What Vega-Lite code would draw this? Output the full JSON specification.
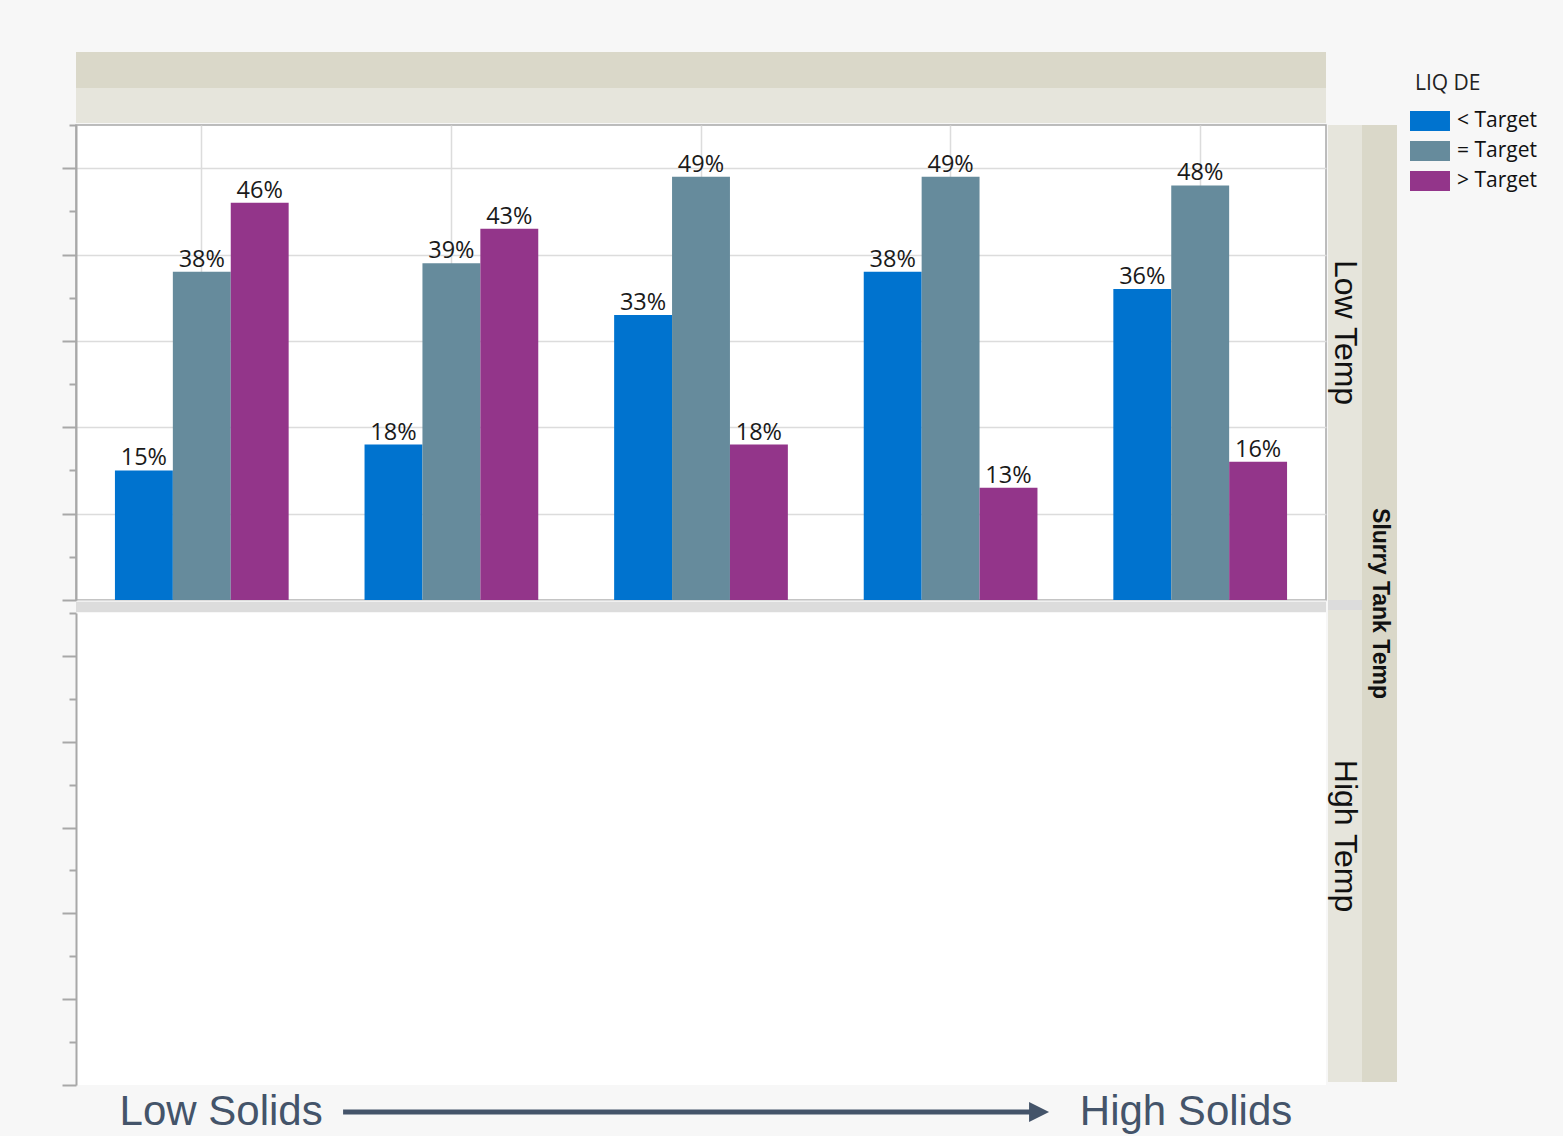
{
  "$schema": "https://vega.github.io/schema/vega-lite/v6.json",
  "background": "#f7f7f7",
  "padding": {"left": 60, "top": 52, "right": 5, "bottom": 0},
  "datasets": {
    "bars": [
      {"temp": "Low Temp", "solids": "Solids 1", "liq": "< Target", "pct": 0.15},
      {"temp": "Low Temp", "solids": "Solids 1", "liq": "= Target", "pct": 0.38},
      {"temp": "Low Temp", "solids": "Solids 1", "liq": "> Target", "pct": 0.46},
      {"temp": "Low Temp", "solids": "Solids 2", "liq": "< Target", "pct": 0.18},
      {"temp": "Low Temp", "solids": "Solids 2", "liq": "= Target", "pct": 0.39},
      {"temp": "Low Temp", "solids": "Solids 2", "liq": "> Target", "pct": 0.43},
      {"temp": "Low Temp", "solids": "Solids 3", "liq": "< Target", "pct": 0.33},
      {"temp": "Low Temp", "solids": "Solids 3", "liq": "= Target", "pct": 0.49},
      {"temp": "Low Temp", "solids": "Solids 3", "liq": "> Target", "pct": 0.18},
      {"temp": "Low Temp", "solids": "Solids 4", "liq": "< Target", "pct": 0.38},
      {"temp": "Low Temp", "solids": "Solids 4", "liq": "= Target", "pct": 0.49},
      {"temp": "Low Temp", "solids": "Solids 4", "liq": "> Target", "pct": 0.13},
      {"temp": "Low Temp", "solids": "Solids 5", "liq": "< Target", "pct": 0.36},
      {"temp": "Low Temp", "solids": "Solids 5", "liq": "= Target", "pct": 0.48},
      {"temp": "Low Temp", "solids": "Solids 5", "liq": "> Target", "pct": 0.16}
    ],
    "rows": [{"temp": "Low Temp"}, {"temp": "High Temp"}],
    "ends": [{"end": "Low Solids"}, {"end": "High Solids"}],
    "arrow": [{"from": "Low Solids", "to": "High Solids"}]
  },
  "config": {"view": {"stroke": null}, "concat": {"spacing": 0}},
  "spacing": 1,
  "hconcat": [
    {
      "spacing": 0,
      "vconcat": [
        {"width": 1250, "height": 36, "view": {"fill": "#dad8c9", "stroke": null}, "data": {"values": []}, "mark": "point", "encoding": {}},
        {"width": 1250, "height": 35, "view": {"fill": "#e6e5dc", "stroke": null}, "data": {"values": []}, "mark": "point", "encoding": {}},
        {
          "width": 1250, "height": 475,
          "view": {"fill": "#ffffff", "stroke": "#a8a8a8", "strokeWidth": 1.5},
          "data": {"name": "bars"},
          "transform": [{"filter": "datum.temp == 'Low Temp'"}],
          "encoding": {
            "x": {"field": "solids", "type": "nominal",
              "scale": {"domain": ["Solids 1", "Solids 2", "Solids 3", "Solids 4", "Solids 5"], "paddingInner": 0.304, "paddingOuter": 0.156},
              "axis": {"title": null, "labels": false, "ticks": false, "domain": false, "grid": true, "gridColor": "#dcdcdc", "gridWidth": 1.5, "bandPosition": 0.5}},
            "xOffset": {"field": "liq", "type": "nominal", "scale": {"domain": ["< Target", "= Target", "> Target"], "paddingInner": 0, "paddingOuter": 0}},
            "y": {"field": "pct", "type": "quantitative",
              "scale": {"domain": [0, 0.55], "nice": false},
              "axis": {"title": null, "labels": false, "values": [0, 0.05, 0.1, 0.15, 0.2, 0.25, 0.3, 0.35, 0.4, 0.45, 0.5, 0.55],
                "domainColor": "#a8a8a8", "domainWidth": 2, "tickColor": "#a8a8a8", "tickWidth": 2,
                "tickSize": {"condition": {"test": "round(datum.value*100) % 10 != 0", "value": 7}, "value": 14},
                "grid": true, "gridColor": "#dcdcdc", "gridWidth": 1.5,
                "gridOpacity": {"condition": {"test": "round(datum.value*100) % 10 != 0", "value": 0}, "value": 1}}}
          },
          "layer": [
            {
              "mark": {"type": "bar", "strokeWidth": 0},
              "encoding": {
                "color": {"field": "liq", "type": "nominal",
                  "scale": {"domain": ["< Target", "= Target", "> Target"], "range": ["#0073cf", "#668b9c", "#93358a"]},
                  "legend": {"title": "LIQ DE", "orient": "right", "offset": -3, "padding": 21,
                    "titleFont": "Open Sans", "titleFontSize": 21, "titleFontWeight": "normal", "titleColor": "#222222", "titlePadding": 12,
                    "labelFont": "Open Sans", "labelFontSize": 21, "labelColor": "#111111", "labelOffset": 12,
                    "symbolType": "M-1.333,-0.667H1.333V0.667H-1.333Z", "symbolSize": 900, "symbolStrokeWidth": 0, "symbolOpacity": 1, "rowPadding": 4}}
              }
            },
            {
              "mark": {"type": "text", "baseline": "alphabetic", "dy": -5, "font": "Open Sans", "fontSize": 23.5, "color": "#1a1a1a"},
              "encoding": {"text": {"field": "pct", "type": "quantitative", "format": ".0%"}}
            }
          ]
        },
        {"width": 1250, "height": 10, "view": {"fill": "#dcdcdc", "stroke": null}, "data": {"values": []}, "mark": "point", "encoding": {}},
        {
          "width": 1250, "height": 472,
          "view": {"fill": "#ffffff", "stroke": null},
          "data": {"name": "bars"},
          "transform": [{"filter": "datum.temp == 'High Temp'"}],
          "mark": "bar",
          "encoding": {
            "x": {"field": "solids", "type": "nominal", "scale": {"domain": ["Solids 1", "Solids 2", "Solids 3", "Solids 4", "Solids 5"]}, "axis": null},
            "y": {"field": "pct", "type": "quantitative",
              "scale": {"domain": [0, 0.55], "nice": false},
              "axis": {"title": null, "labels": false, "values": [0, 0.05, 0.1, 0.15, 0.2, 0.25, 0.3, 0.35, 0.4, 0.45, 0.5, 0.55],
                "domainColor": "#a8a8a8", "domainWidth": 2, "tickColor": "#a8a8a8", "tickWidth": 2,
                "tickSize": {"condition": {"test": "round(datum.value*100) % 10 != 0", "value": 7}, "value": 14},
                "grid": false}}
          }
        },
        {
          "width": 1250, "height": 52,
          "layer": [
            {
              "data": {"name": "ends"},
              "mark": {"type": "text", "font": "Liberation Sans", "fontSize": 42, "color": "#44546a", "baseline": "middle"},
              "encoding": {
                "x": {"field": "end", "type": "nominal", "scale": {"type": "point", "domain": ["Low Solids", "High Solids"], "padding": 0.1477, "align": 0.509}, "axis": null},
                "text": {"field": "end"}
              }
            },
            {
              "data": {"name": "arrow"},
              "mark": {"type": "rule", "color": "#44546a", "strokeWidth": 5, "xOffset": 122, "x2Offset": -144},
              "encoding": {
                "x": {"field": "from", "type": "nominal", "scale": {"type": "point", "domain": ["Low Solids", "High Solids"], "padding": 0.1477, "align": 0.509}, "axis": null},
                "x2": {"field": "to"}
              }
            },
            {
              "data": {"name": "arrow"},
              "mark": {"type": "point", "shape": "M-1,-1L1,0L-1,1Z", "size": 400, "filled": true, "color": "#44546a", "opacity": 1, "xOffset": -147},
              "encoding": {
                "x": {"field": "to", "type": "nominal", "scale": {"type": "point", "domain": ["Low Solids", "High Solids"], "padding": 0.1477, "align": 0.509}, "axis": null}
              }
            }
          ]
        }
      ]
    },
    {
      "spacing": 0,
      "vconcat": [
        {"width": 69, "height": 73, "data": {"values": []}, "mark": "point", "encoding": {}},
        {
          "spacing": 0,
          "hconcat": [
            {
              "spacing": 0,
              "vconcat": [
                {"width": 34, "height": 475, "view": {"fill": "#e6e5dc", "stroke": null},
                  "data": {"name": "rows"}, "transform": [{"filter": "datum.temp == 'Low Temp'"}],
                  "mark": {"type": "text", "angle": 90, "font": "Liberation Sans", "fontSize": 32, "color": "#111111", "baseline": "middle", "dx": -30},
                  "encoding": {"text": {"field": "temp"}}},
                {"width": 34, "height": 10, "view": {"fill": "#dcdcdc", "stroke": null}, "data": {"values": []}, "mark": "point", "encoding": {}},
                {"width": 34, "height": 472, "view": {"fill": "#e6e5dc", "stroke": null},
                  "data": {"name": "rows"}, "transform": [{"filter": "datum.temp == 'High Temp'"}],
                  "mark": {"type": "text", "angle": 90, "font": "Liberation Sans", "fontSize": 32, "color": "#111111", "baseline": "middle", "dx": -10},
                  "encoding": {"text": {"field": "temp"}}}
              ]
            },
            {"width": 35, "height": 957, "view": {"fill": "#dad8c9", "stroke": null},
              "data": {"values": [{"title": "Slurry Tank Temp"}]},
              "mark": {"type": "text", "angle": 90, "font": "Liberation Sans", "fontSize": 23, "fontWeight": "bold", "color": "#111111", "baseline": "middle"},
              "encoding": {"text": {"field": "title"}}}
          ]
        }
      ]
    }
  ]
}
